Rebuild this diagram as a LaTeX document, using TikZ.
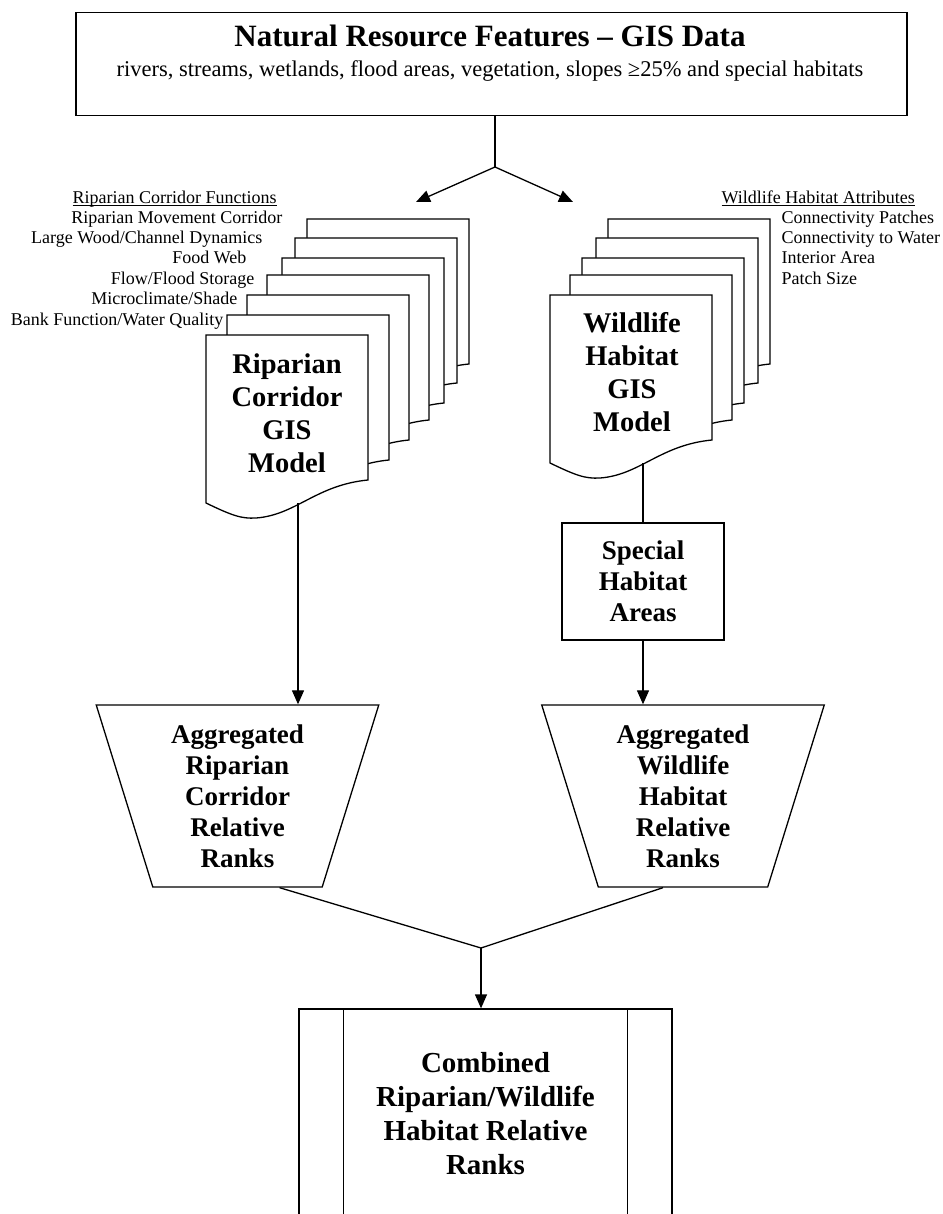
\documentclass[tikz,border=0pt]{standalone}
\usepackage{fontspec}
\setmainfont{Liberation Serif}
\usetikzlibrary{shapes.geometric,arrows.meta}

\newcommand{\labfont}{\fontsize{18}{20}\selectfont}
\newcommand{\docfont}{\fontsize{28.5}{33}\selectfont\bfseries}
\newcommand{\aggfont}{\fontsize{27}{31}\selectfont\bfseries}
\newcommand{\ttlfont}{\fontsize{31}{36}\selectfont\bfseries}
\newcommand{\subfont}{\fontsize{22.5}{26}\selectfont}
\newcommand{\combfont}{\fontsize{29}{34}\selectfont\bfseries}

% one sheet of a document stack, top left corner at (#1,#2)
\newcommand{\docpage}[2]{%
  \draw[page] (#1,#2) -- ++(162,0) -- ++(0,145)
    .. controls +(-52,5) and +(40,-3) .. ++(-112,38)
    .. controls +(-15,1) and +(25,12) .. ++(-50,-15) -- cycle;}

\begin{document}
\begin{tikzpicture}[x=1pt, y=-1pt, line width=1.3pt,
    page/.style={draw, fill=white},
    box/.style={draw, fill=white},
    lab/.style={inner sep=0pt, font=\labfont},
    doc/.style={align=center, font=\docfont},
    arr/.style={-{Triangle[length=14pt,width=12pt]}},
    agg/.style={draw, trapezium, shape border rotate=180, trapezium stretches=true,
      trapezium angle=72.75, minimum width=283pt, minimum height=182pt,
      align=center, font=\aggfont, inner sep=0pt}]
  \useasboundingbox (0,0) rectangle (942,1214);
  \clip (0,0) rectangle (942,1214);

  % GIS data
  \node[box, minimum width=831pt, minimum height=103pt, anchor=north] (gis) at (491.5,12) {};
  \node[anchor=base, font=\ttlfont] (gistitle) at (490,47) {Natural Resource Features – GIS Data};
  \node[anchor=base, font=\subfont] (gissub) at (490,77) {rivers, streams, wetlands, flood areas, vegetation, slopes ≥25\% and special habitats};

  \coordinate (split) at (495,167);
  \coordinate (rsplit) at (416,202);
  \coordinate (wsplit) at (573,202);
  \draw (split |- gis.south) -- (split);
  \draw[arr] (split) -- (rsplit);
  \draw[arr] (split) -- (wsplit);

  % riparian corridor stack
  \foreach \x/\y in {307/219, 295/238, 282/258, 267/275, 247/295, 227/315, 206/335} {\docpage{\x}{\y}}
  \node[doc] (rdoc) at (287,413) {Riparian\\Corridor\\GIS\\Model};
  \coordinate (rdocout) at (298,503);
  \node[lab, anchor=base west] (rfhead) at (72,204) {\underline{\smash{Riparian Corridor Functions}}};
  \node[lab, anchor=base east] (rf1) at (283,224) {Riparian Movement Corridor};
  \node[lab, anchor=base east] (rf2) at (263,244) {Large Wood/Channel Dynamics};
  \node[lab, anchor=base east] (rf3) at (247,264) {Food Web};
  \node[lab, anchor=base east] (rf4) at (255,285) {Flow/Flood Storage};
  \node[lab, anchor=base east] (rf5) at (238,305) {Microclimate/Shade};
  \node[lab, anchor=base east] (rf6) at (224,325) {Bank Function/Water Quality};

  % wildlife habitat stack
  \foreach \x/\y in {608/219, 596/238, 582/258, 570/275, 550/295} {\docpage{\x}{\y}}
  \node[doc] (wdoc) at (632,372) {Wildlife\\Habitat\\GIS\\Model};
  \coordinate (wdocout) at (643,463);
  \node[lab, anchor=base west] (whead) at (721,204) {\underline{\smash{Wildlife Habitat Attributes}}};
  \node[lab, anchor=base west] (wa1) at (781,224) {Connectivity Patches};
  \node[lab, anchor=base west] (wa2) at (781,244) {Connectivity to Water};
  \node[lab, anchor=base west] (wa3) at (781,264) {Interior Area};
  \node[lab, anchor=base west] (wa4) at (781,284) {Patch Size};

  \node[box, minimum width=162pt, minimum height=117pt, align=center, font=\aggfont] (spec) at (643,581.5) {Special\\Habitat\\Areas};
  \draw (wdocout) -- (wdocout |- spec.north);

  % aggregated ranks
  \node[agg] (ragg) at (237.5,796) {Aggregated\\Riparian\\Corridor\\Relative\\Ranks};
  \node[agg] (wagg) at (683,796) {Aggregated\\Wildlife\\Habitat\\Relative\\Ranks};
  \draw[arr] (rdocout) -- (rdocout |- ragg.north);
  \draw[arr] (spec.south) -- (spec.south |- wagg.north);

  % combined
  \node[box, minimum width=373pt, minimum height=210pt, align=center, font=\combfont] (comb) at (485.5,1114) {Combined\\Riparian/Wildlife\\Habitat Relative\\Ranks};
  \draw ([xshift=45pt]comb.north west) -- ([xshift=45pt]comb.south west);
  \draw ([xshift=-45pt]comb.north east) -- ([xshift=-45pt]comb.south east);

  \coordinate (merge) at (481,948);
  \draw ([xshift=42pt]ragg.south) -- (merge) -- ([xshift=-20pt]wagg.south);
  \draw[arr] (merge) -- (merge |- comb.north);
\end{tikzpicture}
\end{document}
